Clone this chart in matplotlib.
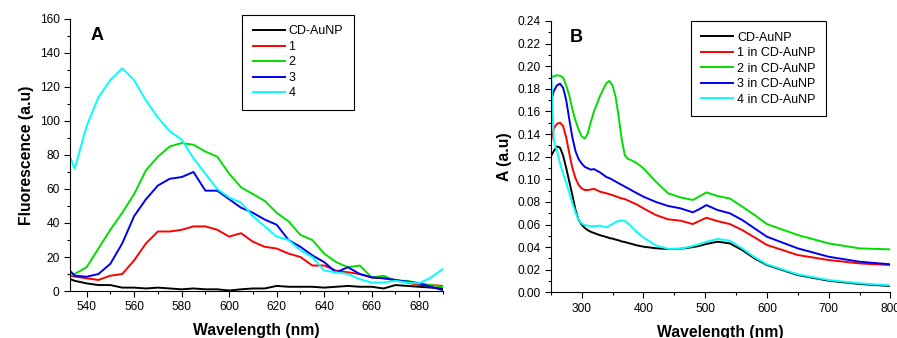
import matplotlib
matplotlib.use("Agg")
import matplotlib.pyplot as plt
from matplotlib.ticker import MultipleLocator

plt.rcParams["font.family"] = ["Liberation Sans", "DejaVu Sans"]

# ---- Panel A: fluorescence ----
wl_a = [533, 535, 540, 545, 550, 555, 560, 565, 570, 575, 580, 585, 590, 595,
        600, 605, 610, 615, 620, 625, 630, 635, 640, 645, 650, 655, 660, 665,
        670, 675, 680, 685, 690]
fl_cd = [7, 6, 4.5, 3.5, 3.5, 2, 2, 1.5, 2, 1.5, 1, 1.5, 1, 1, 0.3, 1, 1.5, 1.5,
         3, 2.5, 2.5, 2.5, 2, 2.5, 3, 2.5, 2.5, 1.5, 3.5, 3, 2.5, 2, 1.5]
fl_1 = [9, 8.5, 7.5, 6.5, 9, 10, 18, 28, 35, 35, 36, 38, 38, 36, 32, 34, 29, 26,
        25, 22, 20, 15, 15, 12, 11, 10, 8, 7.5, 6.5, 5, 3.5, 3.5, 3]
fl_2 = [9, 10, 14, 25, 36, 46, 57, 71, 79, 85, 87, 86, 82, 79, 69, 61, 57, 53,
        46, 41, 33, 30, 22, 17, 14, 15, 8, 9, 6, 6, 4.5, 3.5, 2.5]
fl_3 = [12, 9, 8.4, 10, 16, 28, 44, 54, 62, 66, 67, 70, 59, 59, 54, 49, 46, 42,
        39, 30, 26, 21, 17, 11, 14, 10, 8, 7.5, 6.5, 5.5, 4.5, 2.5, 0.5]
fl_4 = [79, 72, 97, 114, 124, 131, 124, 112, 102, 94, 89, 78, 69, 60, 55, 52,
        44, 38, 32, 30, 24, 20, 12, 11, 10, 7, 5, 5, 6, 5, 4.5, 8, 13]
labels_a = ["CD-AuNP", "1", "2", "3", "4"]

# ---- Panel B: absorbance ----
wl_b = [250, 255, 260, 265, 270, 275, 280, 285, 290, 295, 300, 305, 310, 315,
        320, 330, 340, 345, 350, 355, 360, 365, 370, 375, 380, 390, 400, 420,
        440, 460, 480, 490, 502, 520, 540, 560, 580, 600, 650, 700, 750, 800]
ab_cd = [.120, .125, .129, .128, .121, .110, .098, .086, .073, .064, .060, .057,
         .055, .0535, .0525, .0505, .049, .048, .0475, .0467, .046, .045, .0445,
         .0437, .043, .0415, .0404, .039, .0383, .0385, .040, .041, .0428, .0448,
         .0433, .0374, .030, .0242, .0153, .0103, .0074, .0056]
ab_1 = [.133, .145, .149, .150, .147, .137, .123, .110, .101, .095, .092, .0905,
        .0905, .091, .0915, .089, .0876, .0868, .086, .085, .084, .083, .0825,
        .0812, .080, .0775, .0743, .0684, .0646, .0634, .0604, .063, .066, .063,
        .0604, .0551, .0486, .0419, .033, .0286, .0256, .0242]
ab_2 = [.1905, .191, .192, .1915, .190, .183, .174, .162, .152, .144, .138, .136,
        .1405, .151, .160, .174, .185, .187, .183, .173, .155, .135, .121, .118,
        .117, .114, .1097, .098, .0876, .084, .0817, .0846, .0884, .0852, .083,
        .0758, .0684, .0604, .0507, .0433, .0389, .038]
ab_3 = [.168, .178, .183, .1845, .181, .170, .153, .137, .125, .118, .114, .111,
        .1097, .1085, .109, .106, .102, .101, .0995, .098, .0964, .095, .0935,
        .092, .0905, .0875, .0846, .080, .0764, .0743, .0708, .0734, .0772,
        .0728, .0699, .064, .0566, .0492, .0389, .0315, .0271, .0248]
ab_4 = [.204, .134, .125, .114, .105, .097, .088, .079, .071, .064, .061, .0595,
        .059, .0585, .0585, .059, .0575, .059, .0605, .062, .0632, .0636, .0632,
        .061, .0585, .053, .0486, .0415, .0385, .0385, .041, .0425, .0448, .0472,
        .0457, .0389, .031, .0248, .0159, .0109, .008, .0062]
labels_b = ["CD-AuNP", "1 in CD-AuNP", "2 in CD-AuNP", "3 in CD-AuNP", "4 in CD-AuNP"]

colors = ["#000000", "#ff0000", "#00dd00", "#0000ee", "#00ffff"]


def style_axes(ax):
    ax.spines["top"].set_visible(False)
    ax.spines["right"].set_visible(False)
    ax.tick_params(which="both", direction="out", labelsize=8.6, width=0.8)
    ax.tick_params(which="major", length=4)
    ax.tick_params(which="minor", length=2)


def boxed_legend(ax, anchor):
    leg = ax.legend(loc="upper left", bbox_to_anchor=anchor, fontsize=9,
                    handlelength=2.56, handletextpad=0.3, labelspacing=0.28,
                    borderpad=0.85, borderaxespad=0, fancybox=False, framealpha=1)
    leg.get_frame().set_edgecolor("black")
    leg.get_frame().set_linewidth(0.8)
    return leg


fig = plt.figure(figsize=(8.97, 3.38), dpi=100)
ax1 = fig.add_axes([0.078, 0.139, 0.4158, 0.805])
ax2 = fig.add_axes([0.614, 0.135, 0.3787, 0.803])

for ys, c, lab in zip([fl_cd, fl_1, fl_2, fl_3, fl_4], colors, labels_a):
    ax1.plot(wl_a, ys, color=c, lw=1.4, label=lab)
ax1.set_xlim(533, 690)
ax1.set_ylim(0, 160)
ax1.xaxis.set_major_locator(MultipleLocator(20))
ax1.xaxis.set_minor_locator(MultipleLocator(10))
ax1.yaxis.set_major_locator(MultipleLocator(20))
ax1.yaxis.set_minor_locator(MultipleLocator(10))
style_axes(ax1)
ax1.set_xlabel("Wavelength (nm)", fontsize=11.3, fontweight="bold", labelpad=7)
ax1.set_ylabel("Fluorescence (a.u)", fontsize=11.3, fontweight="bold", labelpad=4)
ax1.text(0.055, 0.97, "A", transform=ax1.transAxes, fontsize=13,
         fontweight="bold", va="top")
boxed_legend(ax1, (0.461, 1.015))

for ys, c, lab in zip([ab_cd, ab_1, ab_2, ab_3, ab_4], colors, labels_b):
    ax2.plot(wl_b, ys, color=c, lw=1.4, label=lab)
ax2.set_xlim(250, 800)
ax2.set_ylim(0, 0.24)
ax2.xaxis.set_major_locator(MultipleLocator(100))
ax2.xaxis.set_minor_locator(MultipleLocator(50))
ax2.yaxis.set_major_locator(MultipleLocator(0.02))
ax2.yaxis.set_minor_locator(MultipleLocator(0.01))
ax2.yaxis.set_major_formatter(plt.FormatStrFormatter("%.2f"))
style_axes(ax2)
ax2.set_xlabel("Wavelength (nm)", fontsize=11.3, fontweight="bold", labelpad=7)
ax2.set_ylabel("A (a.u)", fontsize=11.3, fontweight="bold", labelpad=4)
ax2.text(0.055, 0.97, "B", transform=ax2.transAxes, fontsize=13,
         fontweight="bold", va="top")
boxed_legend(ax2, (0.412, 1.0))

fig.savefig("out.png", dpi=100)
